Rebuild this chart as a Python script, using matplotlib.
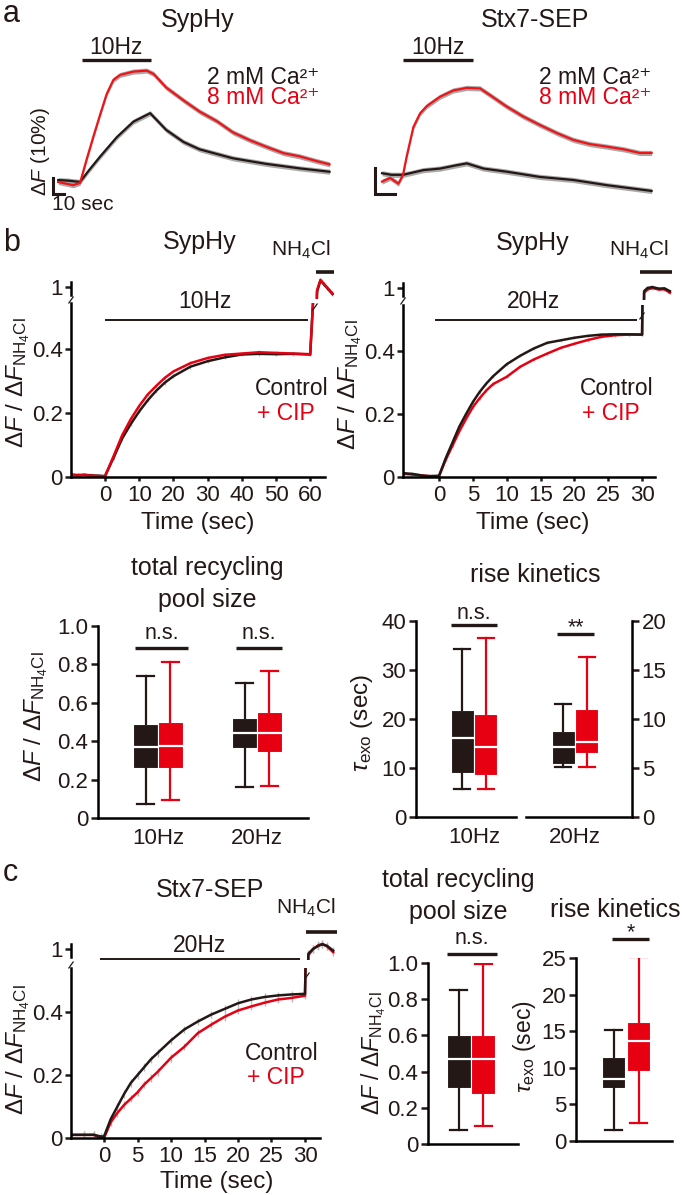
import numpy as np
import matplotlib
matplotlib.use('Agg')
import matplotlib.pyplot as plt
from matplotlib.lines import Line2D

W, H = 685, 1195
plt.rcParams['font.family'] = ['Liberation Sans', 'DejaVu Sans']
plt.rcParams['mathtext.fontset'] = 'custom'
plt.rcParams['mathtext.rm'] = 'Liberation Sans'
plt.rcParams['mathtext.it'] = 'Liberation Sans:italic'
plt.rcParams['mathtext.bf'] = 'Liberation Sans:bold'
plt.rcParams['axes.linewidth'] = 1.8

BLK = '#231815'
RED = '#e60012'
REDL = '#f01418'
GRY = '#a0a0a0'

# ---------------- DATA ----------------
# Panel a, SypHy (time s, dF %), stimulus 0-60 s
a1_t_2mM = [-19, -10, 0, 8, 17.4, 32, 46.4, 61, 75, 90, 104, 119, 133, 162, 191, 217]
a1_2mM = [1.2, 0.8, 0.0, 7.5, 15.8, 28, 37.7, 43, 32.5, 25, 20.4, 17.5, 14.8, 11.3, 8.5, 6.4]
a1_t_8mM = [-19, -6, 0, 5.8, 11.6, 17.4, 23.2, 29, 34.8, 46.4, 58, 64, 75, 90, 104, 119, 133, 148, 162, 177, 191, 206, 217]
a1_8mM = [0.0, -2.0, -0.6, 14.2, 28.3, 41.9, 55.0, 63.8, 66.9, 69.0, 69.6, 67.5, 59, 51, 44, 38, 31, 26, 22, 18, 16, 13, 11]
a1_sem = 1.6
# Panel a, Stx7-SEP
a2_t_2mM = [-18, -10, 0, 17.4, 31.7, 45, 54.6, 68.9, 88.9, 117, 146, 175, 213]
a2_2mM = [1.5, 1.2, 1.2, 2.1, 2.4, 3.0, 3.4, 2.4, 1.8, 0.8, 0.2, -0.8, -1.9]
a2_t_8mM = [-18, -11, -4, 0, 3.1, 8.9, 14.6, 20.3, 31.7, 43, 54.6, 66, 74.6, 88.9, 103, 117, 132, 146, 160, 175, 189, 203, 213]
a2_8mM = [-0.1, 0.6, -0.5, 1.2, 4.7, 10.4, 13.0, 14.4, 16.2, 17.4, 17.9, 17.8, 16.5, 14.3, 12.4, 10.8, 9.2, 7.9, 7.1, 6.6, 6.1, 5.4, 5.4]
a2_sem = 0.5

# Panel b, SypHy 10 Hz (normalised to NH4Cl)
b1_t = [-10, -8, -6, -4, -2, 0, 2.5, 5, 7.5, 10, 12.5, 15, 17.5, 20, 25, 30, 35, 40, 45, 50, 55, 60, 61.2, 62, 63, 64, 65, 66.5]
b1_ctrl = [0.008, 0.006, 0.007, 0.005, 0.004, 0.003, 0.06, 0.12, 0.165, 0.205, 0.24, 0.27, 0.295, 0.315, 0.345, 0.362, 0.374, 0.383, 0.385, 0.384, 0.385, 0.383, 0.62, 0.985, 1.02, 1.008, 0.996, 0.978]
b1_cip = [0.006, 0.005, 0.006, 0.004, 0.003, 0.002, 0.065, 0.13, 0.18, 0.222, 0.258, 0.285, 0.31, 0.33, 0.356, 0.372, 0.382, 0.386, 0.39, 0.388, 0.386, 0.384, 0.62, 0.99, 1.022, 1.01, 0.998, 0.98]
b1_sem = 0.006
# Panel b, SypHy 20 Hz
b2_t = [-5.3, -4, -2, -1, 0, 1, 2, 3, 4, 5, 6, 7, 8, 10, 12, 14, 16, 18, 20, 22, 24, 26, 28, 30, 30.3, 30.8, 31.5, 32.5, 33.3, 34.1]
b2_ctrl = [0.012, 0.01, 0.003, 0.003, 0.004, 0.06, 0.11, 0.16, 0.2, 0.238, 0.27, 0.297, 0.32, 0.358, 0.385, 0.408, 0.426, 0.434, 0.442, 0.448, 0.452, 0.453, 0.453, 0.452, 0.99, 1.0, 1.003, 0.998, 0.999, 0.99]
b2_cip = [0.01, 0.008, 0.004, 0.002, 0.002, 0.055, 0.1, 0.145, 0.185, 0.222, 0.25, 0.275, 0.295, 0.318, 0.35, 0.373, 0.392, 0.41, 0.423, 0.435, 0.445, 0.45, 0.452, 0.452, 0.985, 0.995, 1.0, 0.995, 0.996, 0.985]
b2_sem = 0.005
# Panel c, Stx7-SEP 20 Hz
c_t = [-4.9, -3, -1.5, -0.5, 0, 1, 2, 3, 4, 5, 6, 7, 8, 10, 12, 14, 16, 18, 20, 22, 24, 26, 28, 30, 30.5, 31.2, 32, 32.6, 33.3, 34.2]
c_ctrl = [0.01, 0.01, 0.01, 0.005, 0.005, 0.06, 0.1, 0.14, 0.175, 0.2, 0.225, 0.25, 0.27, 0.31, 0.345, 0.37, 0.392, 0.41, 0.428, 0.44, 0.448, 0.453, 0.456, 0.458, 0.985, 1.0, 1.01, 1.015, 1.01, 0.995]
c_cip = [0.01, 0.01, 0.01, 0.0, 0.0, 0.05, 0.08, 0.105, 0.125, 0.145, 0.17, 0.19, 0.21, 0.255, 0.29, 0.333, 0.36, 0.385, 0.405, 0.418, 0.43, 0.44, 0.445, 0.452, 0.98, 1.0, 1.012, 1.016, 1.008, 0.99]
c_sem = 0.012

# Box statistics: [whislo, q1, median, q3, whishi]
box_groups = ['10Hz', '20Hz']
pool_b_ctrl = [[0.073, 0.263, 0.369, 0.489, 0.740], [0.159, 0.364, 0.445, 0.523, 0.705]]
pool_b_cip = [[0.095, 0.263, 0.373, 0.500, 0.815], [0.165, 0.345, 0.445, 0.551, 0.768]]
tau_b_ctrl_10 = [5.8, 9.06, 16.2, 21.9, 34.2]
tau_b_cip_10 = [5.8, 8.65, 14.3, 21.0, 36.5]
tau_b_ctrl_20 = [5.1, 5.38, 7.15, 8.76, 11.5]   # right axis (0-20)
tau_b_cip_20 = [5.1, 6.54, 7.67, 10.97, 16.3]
pool_c_ctrl = [0.077, 0.311, 0.472, 0.601, 0.849]
pool_c_cip = [0.101, 0.279, 0.472, 0.601, 0.996]
tau_c_ctrl = [1.5, 7.3, 8.44, 11.54, 15.2]
tau_c_cip = [2.5, 9.6, 13.6, 16.3, 25.1]

# ---------------- FIGURE ----------------
fig = plt.figure(figsize=(W / 100, H / 100), dpi=100)


def AX(x0, y0, x1, y1):
    return fig.add_axes([x0 / W, 1 - y1 / H, (x1 - x0) / W, (y1 - y0) / H])


def T(x, y, s, size=16, ha='center', va='center', color=BLK, rot=0, **kw):
    fig.text(x / W, 1 - y / H, s, fontsize=size, ha=ha, va=va, color=color,
             rotation=rot, **kw)


def L(x0, y0, x1, y1, lw=2.2, color=BLK):
    fig.add_artist(Line2D([x0 / W, x1 / W], [1 - y0 / H, 1 - y1 / H],
                          transform=fig.transFigure, lw=lw, color=color,
                          solid_capstyle='butt'))


TICK = 16
TITLE = 18
LAB = 17.5
LEG = 16.5
YLAB = r'$\Delta\mathit{F}$ / $\Delta\mathit{F}_{\mathrm{NH_4Cl}}$'
TAULAB = r'$\tau_{\mathrm{exo}}$ (sec)'
CA2 = '2 mM Ca²⁺'
CA8 = '8 mM Ca²⁺'

# ---------- panel a ----------
T(3, 14, 'a', size=22, ha='left')


def panel_a(ax, t2, y2, t8, y8, sem, red):
    ax.axis('off')
    for t, y in ((t2, y2), (t8, y8)):
        t = np.asarray(t); y = np.asarray(y)
        ax.fill_between(t, y - sem, y + sem, color=GRY, lw=0, alpha=0.9)
    ax.plot(t2, y2, color=BLK, lw=1.6)
    ax.plot(t8, y8, color=red, lw=1.6)


ax = AX(40, 40, 340, 205)
panel_a(ax, a1_t_2mM, a1_2mM, a1_t_8mM, a1_8mM, a1_sem, REDL)
ax.set_xlim(-34.8, 226.1); ax.set_ylim(-14.4, 88.75)
ax.plot([-23.5, -23.5, -13.5], [2.5, -7.5, -7.5], color=BLK, lw=2.2,
        solid_joinstyle='miter', clip_on=False)
T(198, 20, 'SypHy', size=TITLE)
L(82, 60, 151, 60, lw=2.4); T(116, 47, '10Hz', size=16.5)
T(207, 77, CA2, size=LEG, ha='left')
T(207, 98, CA8, size=LEG, ha='left', color=RED)
T(40, 152, r'$\Delta\mathit{F}$ (10%)', size=15, rot=90)
T(52, 205, '10 sec', size=15, ha='left')

ax = AX(365, 40, 665, 205)
panel_a(ax, a2_t_2mM, a2_2mM, a2_t_8mM, a2_8mM, a2_sem, REDL)
ax.set_xlim(-32.6, 224.5); ax.set_ylim(-4.6, 27.1)
ax.plot([-24, -24, -7], [2.5, -2.5, -2.5], color=BLK, lw=2.2,
        solid_joinstyle='miter', clip_on=False)
T(535, 20, 'Stx7-SEP', size=TITLE)
L(403, 60, 473, 60, lw=2.4); T(438, 47, '10Hz', size=16.5)
T(539, 77, CA2, size=LEG, ha='left')
T(539, 98, CA8, size=LEG, ha='left', color=RED)


# ---------- trace panels (broken axes) ----------
def trace_panel(lo_rect, hi_rect, xlim, xend, ylo_top, yhi, t, ctrl, cip, sem,
                xticks, red_on_top):
    lo = AX(*lo_rect)
    hi = AX(*hi_rect)
    for a in (lo, hi):
        t_ = np.asarray(t)
        for y in (ctrl, cip):
            a.errorbar(t_, y, yerr=sem, fmt='none', ecolor='#b8b8b8', elinewidth=1.0)
        order = [(ctrl, BLK), (cip, RED)] if red_on_top else [(cip, RED), (ctrl, BLK)]
        for y, c in order:
            a.plot(t_, y, color=c, lw=1.8)
        a.set_xlim(*xlim)
        a.spines['top'].set_visible(False)
        a.spines['right'].set_visible(False)
        a.tick_params(direction='out', length=4, width=1.8, labelsize=TICK,
                      pad=2, colors=BLK)
    lo.set_ylim(0, ylo_top)
    lo.spines['bottom'].set_bounds(xlim[0], xend)
    lo.set_yticks([0, 0.2, 0.4]); lo.set_yticklabels(['0', '0.2', '0.4'])
    lo.set_xticks(xticks); lo.set_xticklabels([str(v) for v in xticks])
    lo.tick_params(axis='x', length=3, pad=3)
    hi.set_ylim(*yhi)
    hi.spines['bottom'].set_visible(False)
    hi.spines['left'].set_bounds(0.975, 1.016)
    hi.set_yticks([1]); hi.set_yticklabels(['1'])
    hi.tick_params(axis='x', bottom=False, labelbottom=False)
    hi.patch.set_visible(False)
    lo.patch.set_visible(False)
    return lo, hi


def brk(x, y, dx=2.5, dy=3.5):
    L(x - dx, y + dy, x + dx, y - dy, lw=0.9)


T(3, 243, 'b', size=22, ha='left')
# b left
trace_panel((71, 303, 335, 477), (71, 276, 335, 299), (-9.94, 67.25), 64.3,
            0.544, (0.9625, 1.034), b1_t, b1_ctrl, b1_cip, b1_sem,
            [0, 10, 20, 30, 40, 50, 60], True)
brk(71, 300); brk(315, 307)
T(200, 242, 'SypHy', size=TITLE)
T(301, 250, 'NH$_4$Cl', size=15)
L(316, 272, 334, 272, lw=2.6)
L(105, 320, 308, 320, lw=1.4); T(205, 302, '10Hz', size=16.5)
T(255, 388, 'Control', size=LEG, ha='left')
T(257, 413, '+ CIP', size=LEG, ha='left', color=RED)
T(18, 383, YLAB, size=LAB, rot=90)
T(198, 523, 'Time (sec)', size=LAB)

# b right
trace_panel((403, 305, 672, 477), (403, 277, 672, 300), (-5.32, 34.42), 31.9,
            0.546, (1 - 12 / 315, 1 + 11 / 315), b2_t, b2_ctrl, b2_cip, b2_sem,
            [0, 5, 10, 15, 20, 25, 30], False)
brk(403, 301); brk(642, 316)
T(533, 243, 'SypHy', size=TITLE)
T(639, 250, 'NH$_4$Cl', size=15)
L(640, 272, 672, 272, lw=2.6)
L(435, 320, 637, 320, lw=1.4); T(533, 302, '20Hz', size=16.5)
T(580, 388, 'Control', size=LEG, ha='left')
T(582, 413, '+ CIP', size=LEG, ha='left', color=RED)
T(350, 385, YLAB, size=LAB, rot=90)
T(533, 523, 'Time (sec)', size=LAB)


# ---------- box plots ----------
def boxes(ax, stats, positions, width, color):
    items = [dict(whislo=s[0], q1=s[1], med=s[2], q3=s[3], whishi=s[4], fliers=[])
             for s in stats]
    ax.bxp(items, positions=positions, widths=width, patch_artist=True,
           showfliers=False, capwidths=width * 0.72,
           boxprops=dict(facecolor=color, edgecolor='white', linewidth=0.8),
           medianprops=dict(color='white', linewidth=1.6),
           whiskerprops=dict(color=color, linewidth=1.6),
           capprops=dict(color=color, linewidth=1.6), manage_ticks=False)


def box_axes(rect, xlim, ylim, yticks, ylabels, side='left'):
    ax = AX(*rect)
    ax.set_xlim(*xlim); ax.set_ylim(*ylim)
    ax.spines['top'].set_visible(False)
    other = 'right' if side == 'left' else 'left'
    ax.spines[other].set_visible(False)
    if side == 'right':
        ax.yaxis.tick_right()
    ax.set_yticks(yticks); ax.set_yticklabels(ylabels)
    ax.tick_params(axis='y', direction='out', length=5, width=1.8,
                   labelsize=TICK, pad=2, colors=BLK)
    ax.tick_params(axis='x', length=0, labelsize=TICK, pad=7, colors=BLK)
    ax.set_xticks([])
    ax.patch.set_visible(False)
    return ax


def sig(ax, x0, x1, y, txt, ty, va='center'):
    ax.plot([x0, x1], [y, y], color=BLK, lw=2.4, clip_on=False,
            solid_capstyle='butt')
    ax.text((x0 + x1) / 2, ty, txt, ha='center', va=va, fontsize=15.5,
            color=BLK, clip_on=False)


pool_ticks = [0, 0.2, 0.4, 0.6, 0.8, 1.0]
pool_labels = ['0', '0.2', '0.4', '0.6', '0.8', '1.0']

# b pool size
ax = box_axes((98, 626, 308, 818), (0.394, 2.515), (0, 1.0), pool_ticks, pool_labels)
gpos = np.arange(1, len(box_groups) + 1)
boxes(ax, pool_b_ctrl, gpos - 0.126, 0.25, BLK)
boxes(ax, pool_b_cip, gpos + 0.126, 0.25, RED)
ax.set_xticks(gpos); ax.set_xticklabels(box_groups)
sig(ax, 0.768, 1.303, 0.884, 'n.s.', 0.962)
sig(ax, 1.788, 2.253, 0.884, 'n.s.', 0.962)
T(207, 568, 'total recycling', size=TITLE)
T(207, 600, 'pool size', size=TITLE)
T(36, 717, YLAB, size=LAB, rot=90)

# b rise kinetics
ax = box_axes((416, 621, 516, 817), (0.356, 1.467), (0, 40), [0, 10, 20, 30, 40],
              ['0', '10', '20', '30', '40'])
boxes(ax, [tau_b_ctrl_10], [1 - 0.13], 0.25, BLK)
boxes(ax, [tau_b_cip_10], [1 + 0.13], 0.25, RED)
ax.set_xticks([1]); ax.set_xticklabels([box_groups[0]])
sig(ax, 0.744, 1.256, 39.1, 'n.s.', 41.6)
ax2 = box_axes((526, 621, 632, 817), (1.456, 2.633), (0, 20), [0, 5, 10, 15, 20],
               ['0', '5', '10', '15', '20'], side='right')
boxes(ax2, [tau_b_ctrl_20], [2 - 0.13], 0.25, BLK)
boxes(ax2, [tau_b_cip_20], [2 + 0.13], 0.25, RED)
ax2.set_xticks([2]); ax2.set_xticklabels([box_groups[1]])
sig(ax2, 1.8, 2.211, 18.65, '**', 18.75, va='baseline')
T(535, 575, 'rise kinetics', size=TITLE)
T(362, 723, TAULAB, size=LAB, rot=90)

# ---------- panel c ----------
T(3, 873, 'c', size=22, ha='left')
trace_panel((71, 968, 336, 1138), (71, 937, 336, 960), (-4.93, 34.63), 32.24,
            0.54, (1 - 11 / 315, 1 + 12 / 315), c_t, c_ctrl, c_cip, c_sem,
            [0, 5, 10, 15, 20, 25, 30], False)
brk(71, 965); brk(307, 976)
T(210, 890, 'Stx7-SEP', size=TITLE)
T(306, 908, 'NH$_4$Cl', size=15)
L(306, 932, 337, 932, lw=2.6)
L(100, 959, 300, 959, lw=1.4); T(200, 946, '20Hz', size=16.5)
T(245, 1053, 'Control', size=LEG, ha='left')
T(247, 1078, '+ CIP', size=LEG, ha='left', color=RED)
T(18, 1050, YLAB, size=LAB, rot=90)
T(217, 1182, 'Time (sec)', size=LAB)

# c pool size
ax = box_axes((428, 963, 518, 1144), (0.522, 1.522), (0, 1.0), pool_ticks, pool_labels)
boxes(ax, [pool_c_ctrl], [1 - 0.135], 0.26, BLK)
boxes(ax, [pool_c_cip], [1 + 0.135], 0.26, RED)
sig(ax, 0.733, 1.289, 1.051, 'n.s.', 1.138)
T(458, 880, 'total recycling', size=TITLE)
T(458, 912, 'pool size', size=TITLE)
T(374, 1053, YLAB, size=16.5, rot=90)

# c rise kinetics
ax = box_axes((576, 958, 672, 1141), (0.444, 1.511), (0, 25), [0, 5, 10, 15, 20, 25],
              ['0', '5', '10', '15', '20', '25'])
boxes(ax, [tau_c_ctrl], [1 - 0.139], 0.255, BLK)
boxes(ax, [tau_c_cip], [1 + 0.139], 0.255, RED)
sig(ax, 0.844, 1.256, 27.6, '*', 27.75, va='baseline')
T(615, 910, 'rise kinetics', size=TITLE)
T(525, 1047, TAULAB, size=16.5, rot=90)

fig.savefig('out.png', dpi=100)
